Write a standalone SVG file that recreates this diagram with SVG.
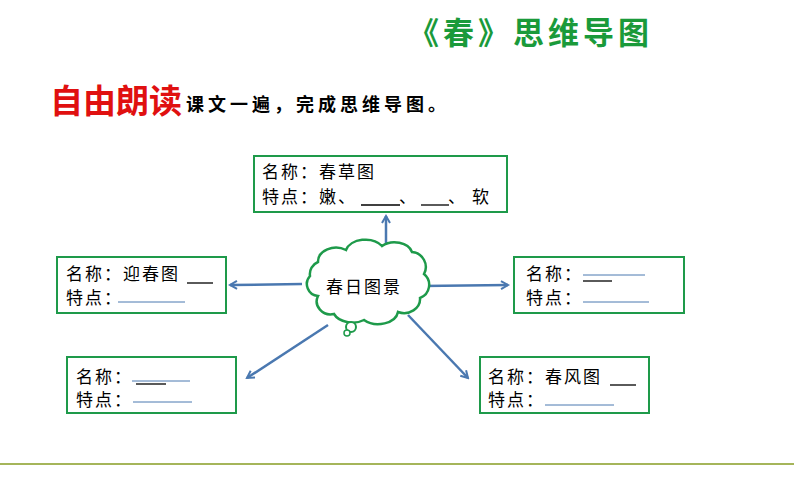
<svg xmlns="http://www.w3.org/2000/svg" width="794" height="496" viewBox="0 0 794 496">
<style>
.box{fill:#fff;stroke:#1e9a4a;stroke-width:2}
.t{font-family:"Noto Sans CJK SC",sans-serif;font-size:17px;fill:#000;letter-spacing:2px}
.c{stroke:#4a78b0;stroke-width:2.5;fill:none;marker-end:url(#a)}
.bl{stroke:#4a78b0;stroke-width:1}
.bk{stroke:#000;stroke-width:1.3}
</style>
<defs><marker id="a" markerWidth="10" markerHeight="10" refX="8" refY="5" orient="auto" markerUnits="userSpaceOnUse"><path d="M1,1 L8,5 L1,9" fill="none" stroke="#4a78b0" stroke-width="2"/></marker></defs>
<rect width="794" height="496" fill="#fff"/>
<text x="408" y="44" font-family="'Noto Sans CJK SC',sans-serif" font-size="31" font-weight="bold" fill="#1a9a3a" letter-spacing="4">《春》思维导图</text>
<text x="50" y="113" font-family="'Noto Sans CJK SC',sans-serif" font-size="33" font-weight="bold" fill="#e01010">自由朗读</text>
<text x="186" y="111" font-family="'Noto Sans CJK SC',sans-serif" font-size="18" font-weight="bold" fill="#000" letter-spacing="4">课文一遍，完成思维导图。</text>
<g id="connectors">
<line class="c" x1="386" y1="250" x2="386" y2="216"/>
<line class="c" x1="302" y1="284" x2="230" y2="285"/>
<line class="c" x1="422" y1="286" x2="508" y2="285"/>
<line class="c" x1="328" y1="325" x2="247" y2="378"/>
<line class="c" x1="408" y1="315" x2="468" y2="378"/>
</g>
<g id="center">
<path d="M318,262 a18,14 0 0 1 28,-12 a20,14 0 0 1 36,-4 a18,13 0 0 1 30,6 a15,15 0 0 1 12,22 a14,14 0 0 1 -4,24 a16,14 0 0 1 -22,14 a20,14 0 0 1 -34,8 a20,14 0 0 1 -30,-6 a14,13 0 0 1 -16,-18 a12,12 0 0 1 -8,-20 a13,13 0 0 1 8,-14 z" fill="#fff" stroke="#1e9a4a" stroke-width="2.5"/>
<circle cx="351" cy="327" r="5" fill="#fff" stroke="#1e9a4a" stroke-width="2"/>
<circle cx="347" cy="333" r="3" fill="#fff" stroke="#1e9a4a" stroke-width="1.5"/>
<text class="t" x="326" y="293" font-size="19" letter-spacing="3">春日图景</text>
</g>
<g id="top">
<rect class="box" x="254" y="156" width="253" height="56"/>
<text class="t" x="262" y="178">名称：春草图</text>
<text class="t" x="262" y="203">特点：嫩、</text>
<text class="t" x="399" y="203">、</text>
<text class="t" x="448" y="203">、</text>
<text class="t" x="472" y="203">软</text>
<line class="bk" x1="361" y1="205" x2="400" y2="205"/>
<line class="bk" x1="421" y1="205" x2="449" y2="205"/>
</g>
<g id="left">
<rect class="box" x="57" y="257" width="169" height="56"/>
<text class="t" x="66" y="280">名称：迎春图</text>
<line class="bk" x1="187" y1="283" x2="213" y2="283"/>
<text class="t" x="66" y="304">特点：</text>
<line class="bl" x1="118" y1="302" x2="185" y2="302"/>
</g>
<g id="right">
<rect class="box" x="514" y="257" width="170" height="56"/>
<text class="t" x="526" y="280">名称：</text>
<line class="bl" x1="583" y1="275" x2="645" y2="275"/>
<line class="bk" x1="583" y1="281" x2="612" y2="281"/>
<text class="t" x="526" y="304">特点：</text>
<line class="bl" x1="583" y1="302" x2="649" y2="302"/>
</g>
<g id="bottom-left">
<rect class="box" x="67" y="357" width="169" height="56"/>
<text class="t" x="76" y="383">名称：</text>
<line class="bl" x1="132" y1="381" x2="190" y2="381"/>
<line class="bk" x1="136" y1="384" x2="166" y2="384"/>
<text class="t" x="76" y="406">特点：</text>
<line class="bl" x1="133" y1="402" x2="192" y2="402"/>
</g>
<g id="bottom-right">
<rect class="box" x="480" y="357" width="169" height="56"/>
<text class="t" x="488" y="383">名称：春风图</text>
<line class="bk" x1="610" y1="385" x2="636" y2="385"/>
<text class="t" x="488" y="406">特点：</text>
<line class="bl" x1="545" y1="405" x2="614" y2="405"/>
</g>
<line x1="0" y1="464" x2="794" y2="464" stroke="#a5b55a" stroke-width="2"/>
</svg>
